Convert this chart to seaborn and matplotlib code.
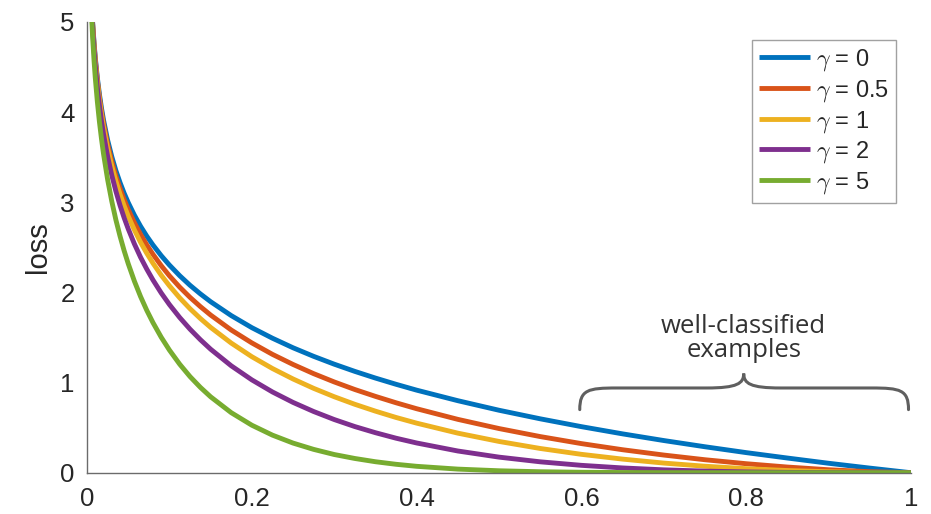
import numpy as np
import pandas as pd
import matplotlib
matplotlib.use("Agg")
import matplotlib.pyplot as plt
from matplotlib.path import Path
from matplotlib.patches import PathPatch
import seaborn as sns

# probability of the ground-truth class
p_true = [0.005, 0.0067, 0.0085, 0.01, 0.0125, 0.015, 0.0175, 0.02, 0.025, 0.03,
          0.035, 0.04, 0.045, 0.05, 0.0575, 0.065, 0.0725, 0.08, 0.09, 0.1,
          0.1125, 0.125, 0.1375, 0.15, 0.175, 0.2, 0.225, 0.25, 0.275, 0.3,
          0.325, 0.35, 0.375, 0.4, 0.45, 0.5, 0.55, 0.6, 0.65, 0.7,
          0.75, 0.8, 0.85, 0.9, 0.95, 1.0]

loss_g0 = [5.298, 5.006, 4.768, 4.605, 4.382, 4.200, 4.046, 3.912, 3.689, 3.507,
           3.352, 3.219, 3.101, 2.996, 2.856, 2.733, 2.624, 2.526, 2.408, 2.303,
           2.185, 2.079, 1.984, 1.897, 1.743, 1.609, 1.492, 1.386, 1.291, 1.204,
           1.124, 1.050, 0.981, 0.916, 0.799, 0.693, 0.598, 0.511, 0.431, 0.357,
           0.288, 0.223, 0.163, 0.105, 0.0513, 0.0]
loss_g05 = [5.285, 4.989, 4.748, 4.582, 4.355, 4.168, 4.010, 3.873, 3.643, 3.454,
            3.293, 3.154, 3.030, 2.920, 2.773, 2.643, 2.527, 2.423, 2.297, 2.184,
            2.058, 1.945, 1.843, 1.749, 1.583, 1.440, 1.313, 1.201, 1.099, 1.007,
            0.923, 0.847, 0.776, 0.710, 0.592, 0.490, 0.401, 0.323, 0.255, 0.196,
            0.144, 0.100, 0.063, 0.033, 0.0115, 0.0]
loss_g1 = [5.272, 4.972, 4.727, 4.559, 4.327, 4.137, 3.975, 3.834, 3.597, 3.402,
           3.235, 3.090, 2.961, 2.846, 2.692, 2.555, 2.434, 2.324, 2.191, 2.073,
           1.939, 1.819, 1.711, 1.612, 1.438, 1.287, 1.156, 1.040, 0.936, 0.843,
           0.759, 0.683, 0.613, 0.550, 0.439, 0.347, 0.269, 0.204, 0.151, 0.107,
           0.072, 0.045, 0.0244, 0.011, 0.0026, 0.0]
loss_g2 = [5.245, 4.939, 4.687, 4.513, 4.273, 4.075, 3.905, 3.757, 3.507, 3.300,
           3.122, 2.966, 2.828, 2.704, 2.537, 2.389, 2.258, 2.138, 1.994, 1.865,
           1.721, 1.592, 1.476, 1.370, 1.186, 1.030, 0.896, 0.780, 0.679, 0.590,
           0.512, 0.444, 0.383, 0.330, 0.241, 0.173, 0.121, 0.082, 0.053, 0.032,
           0.018, 0.009, 0.0037, 0.001, 0.0001, 0.0]
loss_g5 = [5.167, 4.840, 4.569, 4.379, 4.115, 3.894, 3.704, 3.536, 3.250, 3.011,
           2.805, 2.625, 2.463, 2.318, 2.124, 1.953, 1.801, 1.665, 1.503, 1.360,
           1.203, 1.066, 0.947, 0.842, 0.666, 0.527, 0.417, 0.329, 0.259, 0.202,
           0.158, 0.122, 0.0936, 0.0712, 0.0402, 0.0217, 0.011, 0.0052, 0.0023, 0.0009,
           0.0003, 0.0001, 0.0, 0.0, 0.0, 0.0]

series_labels = [r"$\gamma$ = 0", r"$\gamma$ = 0.5", r"$\gamma$ = 1",
                 r"$\gamma$ = 2", r"$\gamma$ = 5"]
series_values = [loss_g0, loss_g05, loss_g1, loss_g2, loss_g5]
colors = ["#0072BD", "#D95319", "#EDB120", "#7E2F8E", "#77AC30"]

x_ticks = [0, 0.2, 0.4, 0.6, 0.8, 1]
x_tick_labels = ["0", "0.2", "0.4", "0.6", "0.8", "1"]
y_ticks = [0, 1, 2, 3, 4, 5]

df = pd.concat(
    [pd.DataFrame({"p": p_true, "loss": vals, "gamma": lab})
     for lab, vals in zip(series_labels, series_values)],
    ignore_index=True,
)

sns.set_style("white")
plt.rcParams["font.family"] = ["Liberation Sans", "DejaVu Sans"]
plt.rcParams["mathtext.fontset"] = "cm"

fig = plt.figure(figsize=(9.31, 5.14), dpi=100)
ax = fig.add_axes([0.0935, 0.0803, 0.885, 0.877])

sns.lineplot(data=df, x="p", y="loss", hue="gamma", hue_order=series_labels,
             palette=colors, linewidth=3.5, ax=ax, sort=False, estimator=None,
             solid_joinstyle="round", solid_capstyle="butt")

ax.set_xlim(0, 1)
ax.set_ylim(0, 5)
ax.set_xticks(x_ticks)
ax.set_xticklabels(x_tick_labels)
ax.set_yticks(y_ticks)
ax.set_xlabel("")
ax.set_ylabel("loss", fontsize=21, color="#262626", labelpad=6)

for side in ("top", "right"):
    ax.spines[side].set_visible(False)
for side in ("left", "bottom"):
    ax.spines[side].set_color("#6b6b6b")
    ax.spines[side].set_linewidth(1.0)
ax.tick_params(axis="both", direction="in", length=5, width=1.0, color="#4a4a4a",
               labelsize=18.5, labelcolor="#262626")
ax.tick_params(axis="y", pad=9)
ax.tick_params(axis="x", pad=10)

leg = ax.legend(loc="upper right", bbox_to_anchor=(0.982, 0.96), borderaxespad=0,
                fontsize=17, handlelength=2.15, handletextpad=0.25, labelspacing=0.2,
                frameon=True, fancybox=False, edgecolor="#8a8a8a",
                borderpad=0.3)
leg.get_frame().set_linewidth(1.0)
for line in leg.get_lines():
    line.set_linewidth(3.5)

# curly brace over the well-classified region
x_l, x_c, x_r = 0.598, 0.797, 0.997
y_end, y_mid, y_tip = 0.70, 0.94, 1.10
dx = 0.045
verts = [
    (x_l, y_end), (x_l, y_mid - 0.02), (x_l + 0.01, y_mid), (x_l + dx, y_mid),
    (x_c - dx, y_mid), (x_c - 0.008, y_mid), (x_c, y_mid + 0.05), (x_c, y_tip),
    (x_c, y_mid + 0.05), (x_c + 0.008, y_mid), (x_c + dx, y_mid),
    (x_r - dx, y_mid), (x_r - 0.01, y_mid), (x_r, y_mid - 0.02), (x_r, y_end),
]
codes = [Path.MOVETO, Path.CURVE4, Path.CURVE4, Path.CURVE4,
         Path.LINETO, Path.CURVE4, Path.CURVE4, Path.CURVE4,
         Path.CURVE4, Path.CURVE4, Path.CURVE4,
         Path.LINETO, Path.CURVE4, Path.CURVE4, Path.CURVE4]
ax.add_patch(PathPatch(Path(verts, codes), facecolor="none", edgecolor="#5f5f5f",
                       linewidth=2.2, capstyle="round", clip_on=False))
ax.text(x_c, 1.49, "well-classified\nexamples", ha="center", va="center",
        fontsize=18.5, color="#333333", family=["Open Sans", "DejaVu Sans"],
        linespacing=0.92)

fig.savefig("out.png", dpi=100)
